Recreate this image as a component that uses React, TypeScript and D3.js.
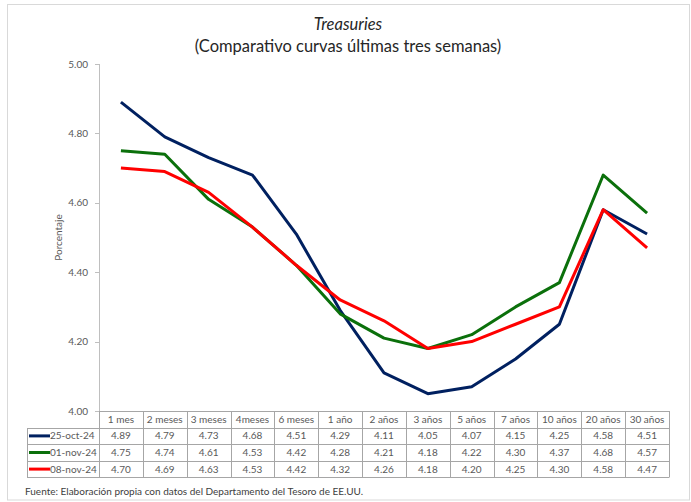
import React from "react";
import * as d3 from "d3";

// Treasury yield curves for the last three weekly readings
const tenors = [
  "1 mes", "2 meses", "3 meses", "4meses", "6 meses", "1 año", "2 años",
  "3 años", "5 años", "7 años", "10 años", "20 años", "30 años",
];
const seriesNames = ["25-oct-24", "01-nov-24", "08-nov-24"];
const oct25 = [4.89, 4.79, 4.73, 4.68, 4.51, 4.29, 4.11, 4.05, 4.07, 4.15, 4.25, 4.58, 4.51];
const nov01 = [4.75, 4.74, 4.61, 4.53, 4.42, 4.28, 4.21, 4.18, 4.22, 4.30, 4.37, 4.68, 4.57];
const nov08 = [4.70, 4.69, 4.63, 4.53, 4.42, 4.32, 4.26, 4.18, 4.20, 4.25, 4.30, 4.58, 4.47];
const seriesColors = ["#002060", "#0b700b", "#ff0000"];
const yTicks = [4.0, 4.2, 4.4, 4.6, 4.8, 5.0];

const W = 691;
const H = 502;
const plotLeft = 99;
const plotRight = 669;
const plotTop = 64;
const plotBottom = 411;
const rowH = 16.6;
const tableLeft = 27;
const FONT = "Lato, 'Open Sans', sans-serif";
const TEXT = "#595959";
const GRID = "#bfbfbf";

export default function App() {
  const x = d3.scaleBand<string>().domain(tenors).range([plotLeft, plotRight]);
  const y = d3.scaleLinear().domain([4.0, 5.0]).range([plotBottom, plotTop]);
  const cx = (t: string) => (x(t) as number) + x.bandwidth() / 2;
  const series = [oct25, nov01, nov08];
  const line = d3
    .line<number>()
    .x((_, i) => cx(tenors[i]))
    .y((d) => y(d));

  const tableBottom = plotBottom + rowH * 4;

  return (
    <div style={{ position: "absolute", left: 0, top: 0 }}>
      <svg width={W} height={H} style={{ display: "block", background: "#fff" }} fontFamily={FONT}>
        <rect x={7.5} y={4.5} width={682} height={495.5} fill="#fff" stroke="#d9d9d9" />

        <text x={348} y={30} textAnchor="middle" fontSize={16.5} fontStyle="italic" fill="#262626">
          Treasuries
        </text>
        <text x={348} y={52} textAnchor="middle" fontSize={16.5} fill="#262626">
          (Comparativo curvas últimas tres semanas)
        </text>

        {/* value axis */}
        <line x1={plotLeft + 0.5} x2={plotLeft + 0.5} y1={plotTop} y2={plotBottom} stroke={GRID} />
        {yTicks.map((t) => (
          <g key={t}>
            <line x1={plotLeft - 4} x2={plotLeft} y1={Math.round(y(t)) + 0.5} y2={Math.round(y(t)) + 0.5} stroke={GRID} />
            <text x={plotLeft - 11} y={y(t)} dy="0.35em" textAnchor="end" fontSize={10} fill={TEXT}>
              {d3.format(".2f")(t)}
            </text>
          </g>
        ))}
        <text
          transform={`translate(62,${(plotTop + plotBottom) / 2}) rotate(-90)`}
          textAnchor="middle"
          fontSize={10}
          fill={TEXT}
        >
          Porcentaje
        </text>

        {/* curves */}
        {series.map((s, k) => (
          <path key={k} d={line(s) || ""} fill="none" stroke={seriesColors[k]} strokeWidth={3} strokeLinejoin="round" />
        ))}

        {/* data table */}
        <g stroke="#a6a6a6" strokeWidth={1}>
          <line x1={plotLeft} x2={plotRight} y1={plotBottom + 0.5} y2={plotBottom + 0.5} />
          {[1, 2, 3, 4].map((r) => (
            <line
              key={r}
              x1={tableLeft}
              x2={plotRight}
              y1={Math.round(plotBottom + rowH * r) + 0.5}
              y2={Math.round(plotBottom + rowH * r) + 0.5}
            />
          ))}
          <line x1={tableLeft + 0.5} x2={tableLeft + 0.5} y1={Math.round(plotBottom + rowH)} y2={Math.round(tableBottom) + 0.5} />
          {tenors.map((t) => (
            <line
              key={t}
              x1={Math.round(x(t) as number) + 0.5}
              x2={Math.round(x(t) as number) + 0.5}
              y1={plotBottom}
              y2={Math.round(tableBottom) + 0.5}
            />
          ))}
          <line x1={plotRight + 0.5} x2={plotRight + 0.5} y1={plotBottom} y2={Math.round(tableBottom) + 0.5} />
        </g>
        {tenors.map((t) => (
          <text key={t} x={cx(t)} y={plotBottom + rowH / 2} dy="0.35em" textAnchor="middle" fontSize={10} fill={TEXT}>
            {t}
          </text>
        ))}
        {series.map((s, k) => {
          const ry = plotBottom + rowH * (k + 1) + rowH / 2;
          return (
            <g key={k}>
              <line x1={tableLeft + 2} x2={tableLeft + 23} y1={ry} y2={ry} stroke={seriesColors[k]} strokeWidth={3} />
              <text x={tableLeft + 23} y={ry} dy="0.35em" fontSize={10} fill={TEXT}>
                {seriesNames[k]}
              </text>
              {s.map((v, i) => (
                <text key={i} x={cx(tenors[i])} y={ry} dy="0.35em" textAnchor="middle" fontSize={10} fill={TEXT}>
                  {d3.format(".2f")(v)}
                </text>
              ))}
            </g>
          );
        })}

        <text x={25} y={495} fontSize={10} fill="#404040">
          Fuente: Elaboración propia con datos del Departamento del Tesoro de EE.UU.
        </text>
      </svg>
    </div>
  );
}
